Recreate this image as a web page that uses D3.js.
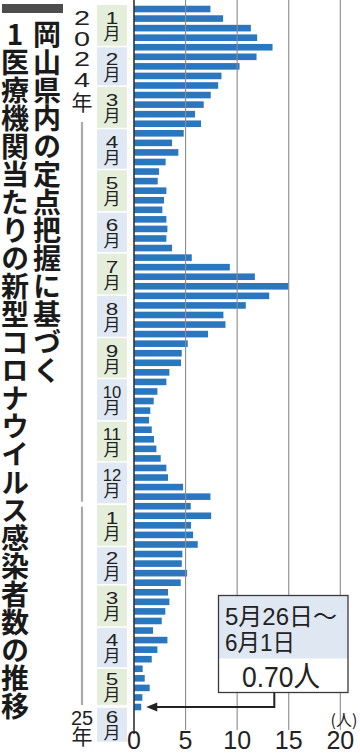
<!DOCTYPE html>
<html><head><meta charset="utf-8">
<script src="https://cdn.jsdelivr.net/npm/d3@7"></script>
<style>html,body{margin:0;padding:0;background:#fff;} svg{display:block;}</style>
</head><body>
<svg id="c" width="360" height="755"></svg>
<script>
// ---- data ----
const titleRight = "岡山県内の定点把握に基づく";
const titleLeft = "1医療機関当たりの新型コロナウイルス感染者数の推移";
const yearTop = ["2","0","2","4","年"];
const yearBottom = ["25","年"];
const unitLabel = "(人)";
const xTicks = [0, 5, 10, 15, 20];
const monthDigits = ["1","2","3","4","5","6","7","8","9","10","11","12","1","2","3","4","5","6"];
const monthStarts = ["2024-01-01","2024-02-01","2024-03-01","2024-04-01","2024-05-01","2024-06-01",
  "2024-07-01","2024-08-01","2024-09-01","2024-10-01","2024-11-01","2024-12-01",
  "2025-01-01","2025-02-01","2025-03-01","2025-04-01","2025-05-01","2025-06-01"];
const values = [7.41, 8.64, 11.33, 11.94, 13.43, 11.88, 10.23, 8.48, 8.16, 7.44,
  6.76, 5.92, 6.50, 4.82, 3.69, 4.30, 3.07, 2.43, 2.30, 3.14,
  2.91, 2.75, 3.14, 3.24, 3.14, 3.69, 5.60, 9.29, 11.72, 14.98,
  13.11, 10.84, 8.67, 8.87, 7.18, 5.21, 4.63, 4.56, 3.43, 3.14,
  2.27, 1.91, 1.58, 1.46, 1.72, 1.94, 2.17, 2.59, 3.14, 3.30,
  4.76, 7.41, 5.50, 7.48, 5.53, 5.73, 6.18, 4.69, 4.63, 5.15,
  4.53, 3.30, 3.43, 3.04, 2.69, 1.84, 3.24, 2.27, 1.72, 0.84,
  1.04, 1.52, 0.81, 0.70];
const calloutLines = ["5月26日〜", "6月1日"];
const calloutValue = "0.70人";
const startDate = "2024-01-01", endDate = "2025-06-02";

// ---- setup ----
const svg = d3.select("#c");
const parse = s => { const [y,m,d] = s.split("-").map(Number); return new Date(Date.UTC(y, m-1, d)); };
const weeks = d3.utcMonday.range(parse(startDate), parse(endDate));
const Y0 = 4.22, Y1 = 711.8;
const x = d3.scaleLinear().domain([0, 20]).range([134, 340.3]);
const y = d3.scaleBand().domain(weeks).range([Y0, Y1]).paddingInner(0.31).paddingOuter(0.155);
const t = d3.scaleUtc().domain([parse(startDate), parse(endDate)]).range([Y0, Y1]);
const LAT = "'Liberation Sans','Noto Sans CJK JP',sans-serif";
const CJK = "'Noto Sans CJK JP',sans-serif";

// fit a horizontal text to a target width by scaling it horizontally
function fitText(sel, x0, y0, target, anchor) {
  const w = sel.node().getComputedTextLength();
  const sx = w > 0 ? target / w : 1;
  sel.attr("x", 0).attr("y", 0).attr("text-anchor", anchor || "start")
    .attr("transform", `translate(${x0},${y0}) scale(${sx},1)`);
}

// ---- month bands ----
const months = monthStarts.map((s, i) => {
  let a = t(parse(s));
  let b = i < monthStarts.length - 1 ? t(parse(monthStarts[i+1])) : Y1;
  return {d: monthDigits[i], a: a + 0.8, b: b - 0.8, i};
});
const last = months[months.length - 1];
last.a = Y1 - 4; last.b = last.a + 34;
months[months.length - 2].b = last.a - 3;

svg.append("g").selectAll("rect").data(months).join("rect")
  .attr("x", 97).attr("width", 30)
  .attr("y", d => d.a).attr("height", d => d.b - d.a)
  .attr("fill", d => d.i % 2 === 0 ? "#e4eedb" : "#e0e8f3");

const ml = svg.append("g").selectAll("text").data(months).join("text")
  .attr("text-anchor", "middle").attr("fill", "#222");
ml.each(function(d) {
  const c = (d.a + d.b) / 2;
  const el = d3.select(this);
  const ts = el.append("tspan").attr("x", 112).attr("y", c - 1.5)
    .attr("font-family", LAT).attr("font-size", 16).text(d.d);
  ts.attr("textLength", d.d.length === 1 ? 12.5 : 18.5).attr("lengthAdjust", "spacingAndGlyphs");
  el.append("tspan").attr("x", 112).attr("y", c + 14.5)
    .attr("font-family", CJK).attr("font-size", 17).text("月");
});

// ---- year markers ----
const jan25 = t(parse(monthStarts[12]));
svg.append("line").attr("x1", 82).attr("x2", 82).attr("y1", 122).attr("y2", jan25 - 2.5)
  .attr("stroke", "#aaaaaa").attr("stroke-width", 2.2);
svg.append("line").attr("x1", 82).attr("x2", 82).attr("y1", jan25 + 2.5).attr("y2", 705)
  .attr("stroke", "#aaaaaa").attr("stroke-width", 2.2);

const yt = svg.append("text").attr("text-anchor", "middle").attr("fill", "#222");
yearTop.forEach((ch, i) => {
  const isD = ch !== "年";
  const ts = yt.append("tspan").attr("x", 82).attr("y", isD ? 25 + i * 20.5 : 110)
    .attr("font-family", isD ? LAT : CJK).attr("font-size", isD ? 20 : 21).text(ch);
  if (isD) ts.attr("textLength", 16).attr("lengthAdjust", "spacingAndGlyphs");
});
const yb = svg.append("text").attr("text-anchor", "middle").attr("fill", "#222");
yb.append("tspan").attr("x", 82).attr("y", 725).attr("font-family", LAT).attr("font-size", 20).text(yearBottom[0]);
yb.append("tspan").attr("x", 82).attr("y", 744).attr("font-family", CJK).attr("font-size", 21).text(yearBottom[1]);

// ---- bars ----
svg.append("g").selectAll("rect").data(values).join("rect")
  .attr("x", x(0)).attr("y", (d, i) => y(weeks[i]))
  .attr("width", d => x(d) - x(0)).attr("height", y.bandwidth())
  .attr("fill", "#2a77c0");

// ---- grid & axis ----
svg.append("g").selectAll("line").data(xTicks.filter(v => v > 0)).join("line")
  .attr("x1", d => x(d)).attr("x2", d => x(d)).attr("y1", 0).attr("y2", 730)
  .attr("stroke", "#8c8c8c").attr("stroke-width", 1.1);
svg.append("line").attr("x1", x(0)).attr("x2", x(0)).attr("y1", 0).attr("y2", 734)
  .attr("stroke", "#333").attr("stroke-width", 1.6);

svg.append("g").selectAll("text").data(xTicks).join("text")
  .attr("x", d => x(d)).attr("y", 749).attr("text-anchor", "middle")
  .attr("font-family", LAT).attr("font-size", 25).attr("fill", "#222").text(d => d);
svg.append("text").attr("x", 344).attr("y", 726).attr("text-anchor", "middle")
  .attr("font-family", CJK).attr("font-size", 16).attr("fill", "#222").text(unitLabel);

// ---- callout ----
const bx = 218.5, by = 595.5, bw = 129.5, bh = 97;
svg.append("rect").attr("x", bx).attr("y", by).attr("width", bw).attr("height", bh)
  .attr("fill", "#fff");
svg.append("rect").attr("x", bx).attr("y", by).attr("width", bw).attr("height", 63)
  .attr("fill", "#dfe7f3");
svg.append("rect").attr("x", bx).attr("y", by).attr("width", bw).attr("height", bh)
  .attr("fill", "none").attr("stroke", "#3a3a3a").attr("stroke-width", 1.3);
[112, 70].forEach((len, i) => {
  const tx = svg.append("text").attr("font-family", LAT).attr("font-size", 24)
    .attr("fill", "#222").text(calloutLines[i]);
  fitText(tx, 225, 625 + i * 26, len, "start");
});
const vt = svg.append("text").attr("font-family", LAT).attr("font-size", 29)
  .attr("fill", "#222").text(calloutValue);
fitText(vt, 281, 687, 78, "middle");

const lastY = y(weeks[weeks.length - 1]) + y.bandwidth() / 2;
const tipX = x(values[values.length - 1]) + 5;
svg.append("path").attr("d", `M274.3,${by + bh} V${lastY} H${tipX + 9}`)
  .attr("fill", "none").attr("stroke", "#222").attr("stroke-width", 2);
svg.append("path").attr("d", `M${tipX},${lastY} L${tipX + 11},${lastY - 4.5} L${tipX + 11},${lastY + 4.5} Z`)
  .attr("fill", "#222");

// ---- title ----
svg.append("rect").attr("x", 2).attr("y", 4).attr("width", 61).attr("height", 9).attr("fill", "#4d4d4d");
[[47, titleRight], [15, titleLeft]].forEach(([cx, s]) => {
  svg.append("text").attr("x", cx).attr("y", 20)
    .style("writing-mode", "vertical-rl").style("text-orientation", "upright")
    .attr("font-family", CJK).attr("font-weight", 700).attr("font-size", 28)
    .attr("fill", "#1a1a1a").text(s);
});
</script>
</body></html>
